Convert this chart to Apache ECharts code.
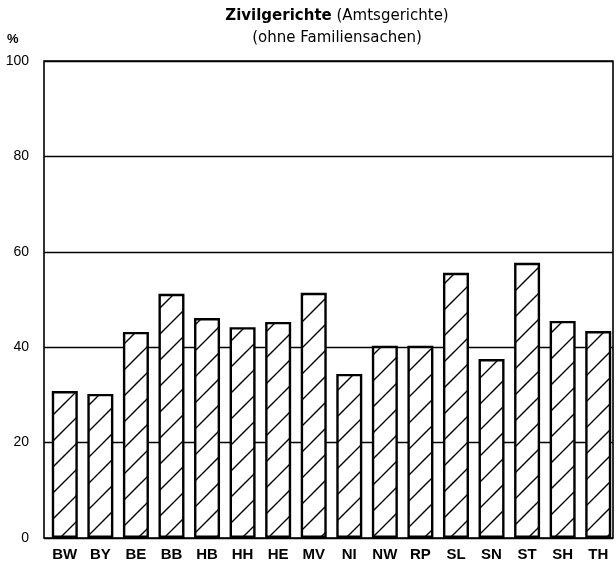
<!DOCTYPE html>
<html><head><meta charset="utf-8">
<script src="https://cdn.jsdelivr.net/npm/echarts@6/dist/echarts.min.js"></script>
<style>html,body{margin:0;padding:0;background:#fff}#c{width:616px;height:568px}</style>
</head><body><div id="c"></div>
<script>
const categories = ['BW','BY','BE','BB','HB','HH','HE','MV','NI','NW','RP','SL','SN','ST','SH','TH'];
const values = [30.8, 30.2, 43.2, 51.2, 46.1, 44.2, 45.3, 51.4, 34.4, 40.3, 40.3, 55.6, 37.5, 57.7, 45.5, 43.4];
const yTicks = {min: 0, max: 100, interval: 20};

// diagonal hatch pattern
const tile = document.createElement('canvas');
const T = 26;
tile.width = T; tile.height = T;
const g = tile.getContext('2d');
g.fillStyle = '#fff'; g.fillRect(0,0,T,T);
g.strokeStyle = '#000'; g.lineWidth = 1.4;
g.beginPath();
g.moveTo(-2, T+2); g.lineTo(T+2, -2);
g.moveTo(-2, 2); g.lineTo(2, -2);
g.moveTo(T-2, T+2); g.lineTo(T+2, T-2);
g.stroke();

const font = '"Liberation Sans", Arial, sans-serif';
const tfont = '"DejaVu Sans", "Liberation Sans", sans-serif';
const chart = echarts.init(document.getElementById('c'), null, {renderer:'canvas'});
chart.setOption({
  backgroundColor: '#fff',
  animation: false,
  title: [
    {text: '{b|Zivilgerichte} (Amtsgerichte)\n(ohne Familiensachen)', left: 332, top: 0, textAlign: 'center',
     textStyle: {fontFamily: tfont, fontSize: 15, fontWeight: 'normal', color: '#000', lineHeight: 22,
       rich: {b: {fontFamily: tfont, fontSize: 15, fontWeight: 'bold', color: '#000', lineHeight: 22}}}},
    {text: '%', left: 2, top: 28, textStyle: {fontFamily: font, fontSize: 13, fontWeight: 'bold', color: '#000'}}
  ],
  grid: [
    {left: 44, right: 3, top: 61, bottom: 30, show: true, borderColor: '#000', borderWidth: 1.6, backgroundColor: 'transparent'},
    {left: 47, width: 570, top: 61, bottom: 30}
  ],
  xAxis: [
    {gridIndex: 0, type: 'value', min: 0, max: 1, show: false},
    {gridIndex: 1, type: 'category', data: categories,
     axisLine: {show: false}, axisTick: {show: false},
     axisLabel: {fontFamily: font, fontSize: 15, fontWeight: 'bold', color: '#000', margin: 9, interval: 0}}
  ],
  yAxis: [
    {gridIndex: 0, type: 'value', min: yTicks.min, max: yTicks.max, interval: yTicks.interval,
     axisLine: {show: false}, axisTick: {show: false},
     axisLabel: {fontFamily: font, fontSize: 14, color: '#000', margin: 15},
     splitLine: {lineStyle: {color: '#000', width: 1.4}}},
    {gridIndex: 1, type: 'value', min: yTicks.min, max: yTicks.max, interval: yTicks.interval, show: false, splitLine: {show: false}}
  ],
  series: [{
    type: 'bar', xAxisIndex: 1, yAxisIndex: 1, data: values, barWidth: 26,
    itemStyle: {color: {image: tile, repeat: 'repeat'}, borderColor: '#000', borderWidth: 2.4}
  }]
});
</script></body></html>
